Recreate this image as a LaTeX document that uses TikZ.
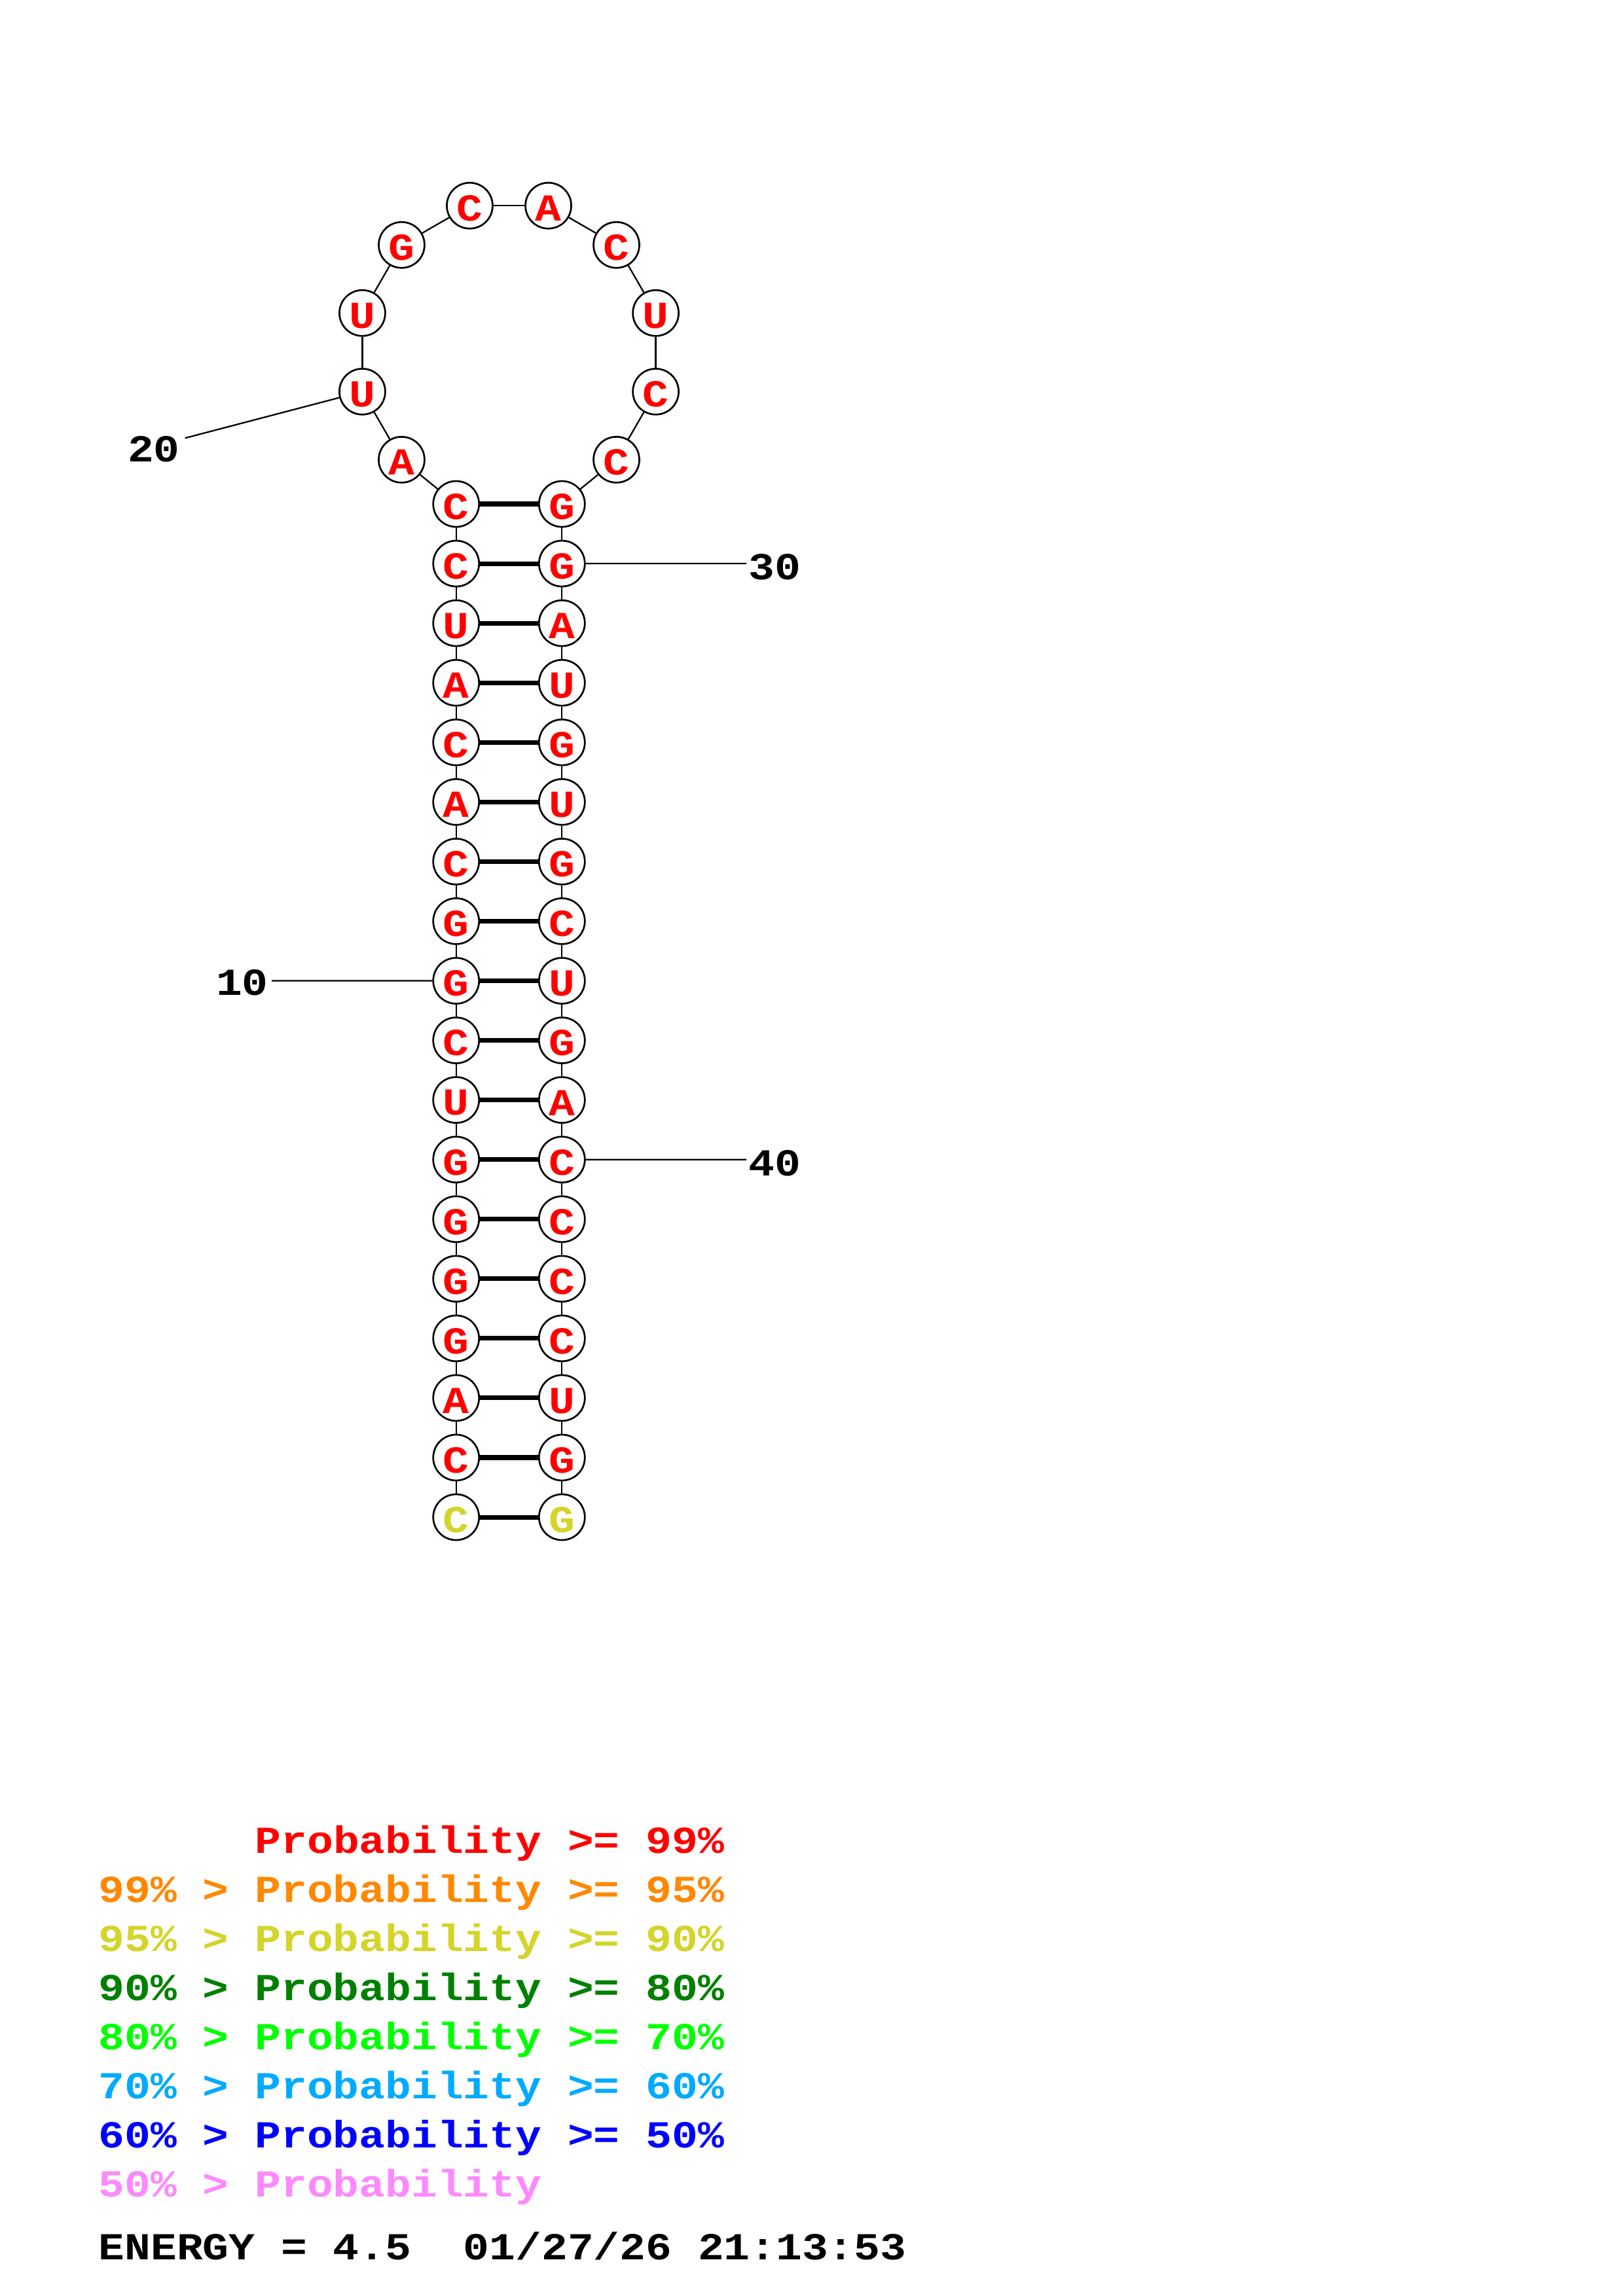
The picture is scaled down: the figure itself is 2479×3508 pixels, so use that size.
\documentclass[tikz,border=0pt]{standalone}
\usepackage{fontspec}
\newfontfamily\cour{Liberation Mono}[FakeStretch=1.137]
\definecolor{cred}{RGB}{255,0,0}
\definecolor{corange}{RGB}{255,136,0}
\definecolor{cyellow}{RGB}{212,212,42}
\definecolor{cdgreen}{RGB}{0,128,0}
\definecolor{cgreen}{RGB}{0,255,0}
\definecolor{csky}{RGB}{0,170,255}
\definecolor{cblue}{RGB}{0,0,255}
\definecolor{cpink}{RGB}{255,136,255}
\newcommand\ntx[1]{\raisebox{-1pt}[\height][\depth]{#1}}
\begin{document}
\begin{tikzpicture}[x=0.24002pt,y=-0.24002pt,
  nt/.style={circle,draw=black,fill=white,line width=0.65pt,minimum size=16.8pt,inner sep=0pt,
    font=\cour\bfseries\fontsize{14pt}{14pt}\selectfont,text=cred},
  bb/.style={line width=0.55pt},
  bond/.style={line width=1.7pt},
  lbl/.style={anchor=base,inner sep=0pt,font=\cour\bfseries\fontsize{14pt}{14pt}\selectfont},
  leg/.style={anchor=base west,inner sep=0pt,font=\cour\bfseries\fontsize{14pt}{14pt}\selectfont}]
\useasboundingbox[fill=white] (0,0) rectangle (2479,3508);
% left strand of stem
\foreach \i/\b in {2/C,3/A,4/G,5/G,6/G,7/G,8/U,9/C,10/G,11/G,12/C,13/A,14/C,15/A,16/U,17/C,18/C}
  \node[nt] (n\i) at (696.7,{770+91.06*(18-\i)}) {\ntx{\b}};
\node[nt,text=cyellow] (n1) at (696.7,{770+91.06*17}) {\ntx{C}};
% hairpin loop
\foreach \i/\b/\a in {19/A/225,20/U/195,21/U/165,22/G/135,23/C/105,24/A/75,25/C/45,26/U/15,27/C/-15,28/C/-45}
  \node[nt] (n\i) at ({777.5+232*cos(\a)},{538.3-232*sin(\a)}) {\ntx{\b}};
% right strand of stem
\foreach \j/\b in {29/G,30/G,31/A,32/U,33/G,34/U,35/G,36/C,37/U,38/G,39/A,40/C,41/C,42/C,43/C,44/U,45/G}
  \node[nt] (n\j) at (858.3,{770+91.06*(\j-29)}) {\ntx{\b}};
\node[nt,text=cyellow] (n46) at (858.3,{770+91.06*17}) {\ntx{G}};
% backbone
\foreach \i [evaluate=\i as \j using int(\i+1)] in {1,...,45}
  \draw[bb] (n\i) -- (n\j);
% base pairs
\foreach \i [evaluate=\i as \j using int(47-\i)] in {1,...,18}
  \draw[bond] (n\i) -- (n\j);
% numbering
\coordinate (e20) at (282.7,669.3);
\coordinate (e10) at (415,1498.5);
\coordinate (e30) at (1140,861);
\coordinate (e40) at (1140,1771.7);
\draw[bb] (n20) -- (e20);
\draw[bb] (n10) -- (e10);
\draw[bb] (n30) -- (e30);
\draw[bb] (n40) -- (e40);
\node[lbl] (l20) at (235,705) {20};
\node[lbl] (l10) at (370,1520.7) {10};
\node[lbl] (l30) at (1183.4,885) {30};
\node[lbl] (l40) at (1183.4,1796) {40};
% legend
\node[leg,text=cred] (g1) at (388.8,2831.7) {Probability >= 99\%};
\node[leg,text=corange] (g2) at (150,2906.7) {99\% > Probability >= 95\%};
\node[leg,text=cyellow] (g3) at (150,2981.7) {95\% > Probability >= 90\%};
\node[leg,text=cdgreen] (g4) at (150,3056.7) {90\% > Probability >= 80\%};
\node[leg,text=cgreen] (g5) at (150,3131.7) {80\% > Probability >= 70\%};
\node[leg,text=csky] (g6) at (150,3206.7) {70\% > Probability >= 60\%};
\node[leg,text=cblue] (g7) at (150,3281.7) {60\% > Probability >= 50\%};
\node[leg,text=cpink] (g8) at (150,3356.7) {50\% > Probability};
\node[leg,text=black] (en) at (150,3452.4) {ENERGY = 4.5\ \ 01/27/26 21:13:53};
\end{tikzpicture}
\end{document}
